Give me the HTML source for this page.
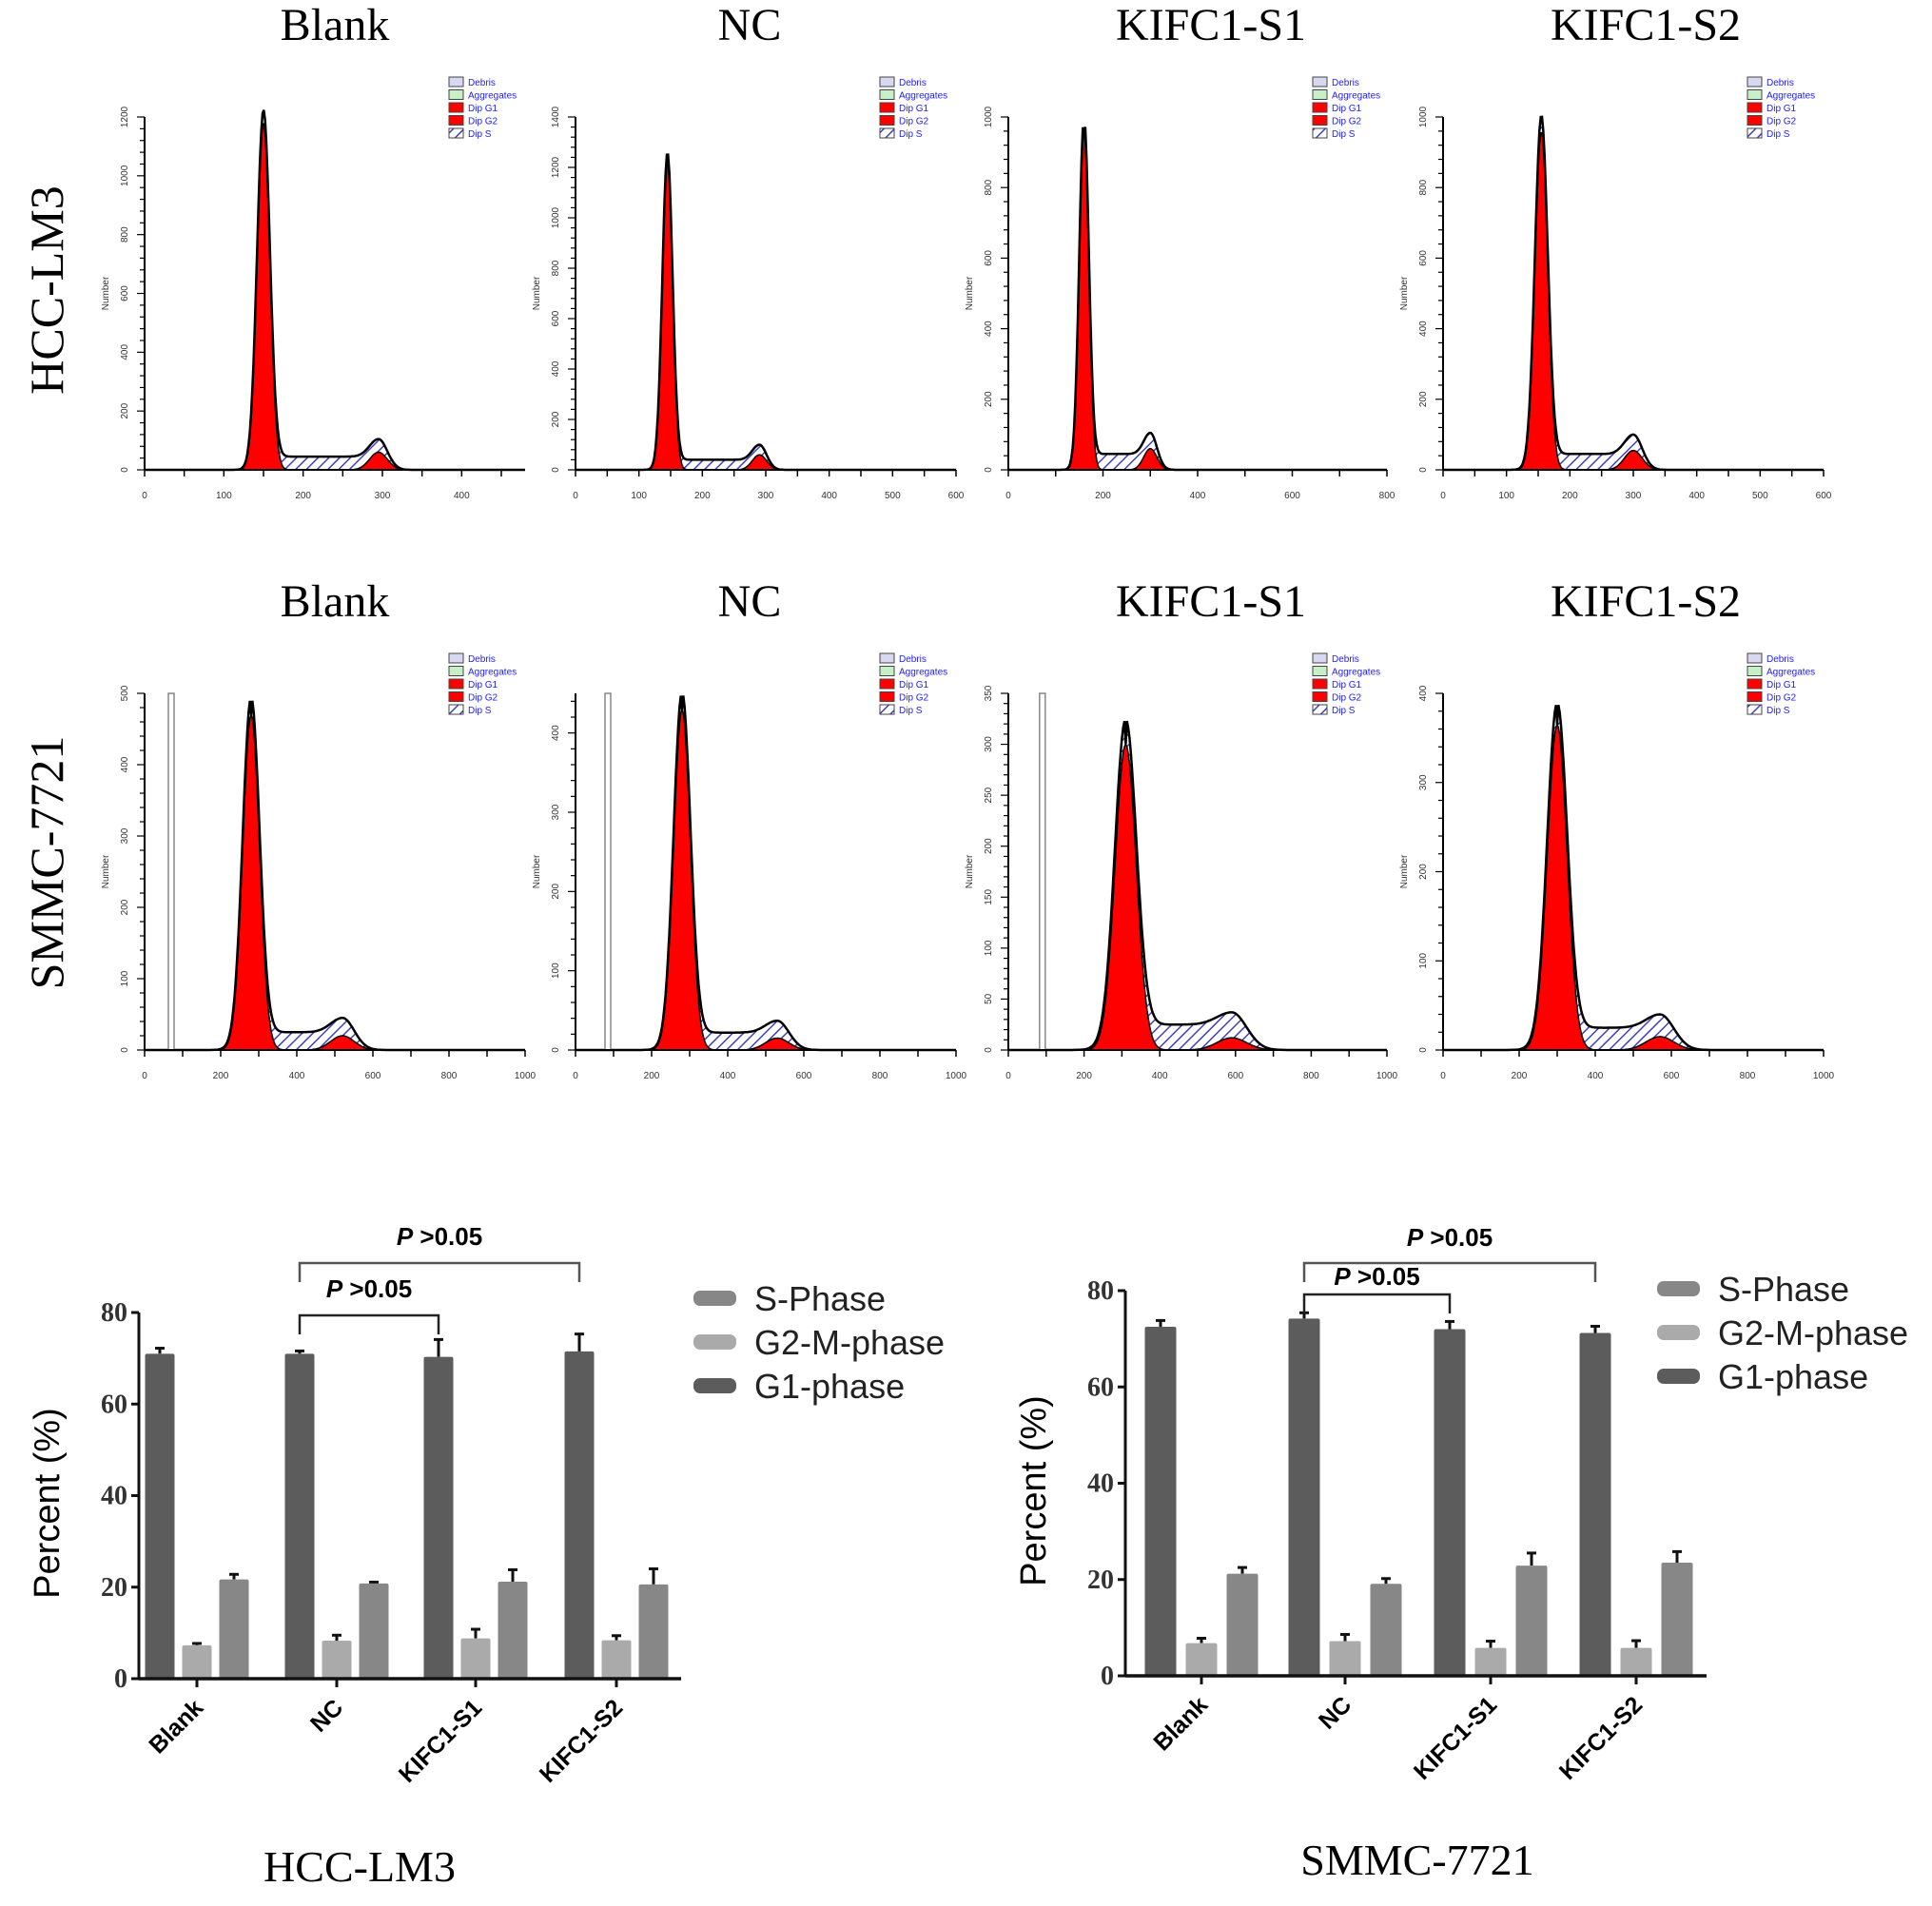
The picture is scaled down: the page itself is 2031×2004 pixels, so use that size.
<!DOCTYPE html>
<html><head><meta charset="utf-8"><style>
html,body{margin:0;padding:0;background:#fff;}
svg{display:block;}
.serif{font-family:"Liberation Serif",serif;}
.sans{font-family:"Liberation Sans",sans-serif;}
</style></head><body>
<svg id="fig" width="2031" height="2004" viewBox="0 0 2031 2004" xmlns="http://www.w3.org/2000/svg">
<defs>
<pattern id="hatch" patternUnits="userSpaceOnUse" width="8" height="8" patternTransform="rotate(45)">
<rect width="8" height="8" fill="#fff"/><line x1="0" y1="0" x2="0" y2="8" stroke="#4040c0" stroke-width="3"/>
</pattern>
</defs>
<g id="hists"></g>
<g id="bars"></g>
</svg>
<script>
// ===== Histogram data =====
const histTitles = ["Blank","NC","KIFC1-S1","KIFC1-S2"];
const rowLabels = ["HCC-LM3","SMMC-7721"];
const row1XMax = [480,600,800,600];
const row1XTickStep = [100,100,200,100];
const row1YMax = [1200,1400,1000,1000];
const row1YTickStep = [200,200,200,200];
const row1G1Pos = [150,145,160,155];
const row1G1Height = [1180,1220,960,960];
const row1G1Sigma = [8,8,10,10];
const row1G2Pos = [295,290,300,300];
const row1G2Height = [60,60,60,55];
const row1SLevel = [45,40,45,45];
const row2XMax = [1000,1000,1000,1000];
const row2XTickStep = [200,200,200,200];
const row2YMax = [500,450,350,400];
const row2YTickStep = [100,100,50,100];
const row2G1Pos = [280,280,310,300];
const row2G1Height = [470,430,300,365];
const row2G1Sigma = [22,22,28,26];
const row2G2Pos = [520,530,590,570];
const row2G2Height = [20,15,12,15];
const row2SLevel = [25,22,25,25];
const row2DebrisPos = [70,85,90,0];

// ===== Bar chart data =====
const barCategories = ["Blank","NC","KIFC1-S1","KIFC1-S2"];
const seriesNames = ["S-Phase","G2-M-phase","G1-phase"];
const yTicks = [0,20,40,60,80];
const hccG1 = [71,71,70.3,71.5];
const hccG1Err = [1.2,0.6,3.8,3.8];
const hccG2M = [7.3,8.3,8.8,8.4];
const hccG2MErr = [0.4,1.2,2.0,1.0];
const hccS = [21.7,20.8,21.2,20.6];
const hccSErr = [1.1,0.3,2.6,3.4];
const smG1 = [72.5,74.2,72,71.2];
const smG1Err = [1.3,1.2,1.6,1.4];
const smG2M = [6.8,7.2,5.8,5.8];
const smG2MErr = [1.0,1.4,1.4,1.5];
const smS = [21.2,19.1,22.9,23.5];
const smSErr = [1.3,1.1,2.6,2.3];

const NS="http://www.w3.org/2000/svg";
function mk(tag,attrs,parent,text){const e=document.createElementNS(NS,tag);for(const k in attrs)e.setAttribute(k,attrs[k]);if(text!==undefined)e.textContent=text;parent.appendChild(e);return e;}

const hists=document.getElementById('hists');
const panelX0=[152,605,1060,1517];
const panelW=[400,400,398,400];
const rowCfg=[
 {y0:494,yTop:123,titleY:42,xMax:row1XMax,xStep:row1XTickStep,yMax:row1YMax,yStep:row1YTickStep,g1p:row1G1Pos,g1h:row1G1Height,g1s:row1G1Sigma,g2p:row1G2Pos,g2h:row1G2Height,s:row1SLevel,deb:null,labY:305},
 {y0:1104,yTop:729,titleY:648,xMax:row2XMax,xStep:row2XTickStep,yMax:row2YMax,yStep:row2YTickStep,g1p:row2G1Pos,g1h:row2G1Height,g1s:row2G1Sigma,g2p:row2G2Pos,g2h:row2G2Height,s:row2SLevel,deb:row2DebrisPos,labY:907}
];
rowCfg.forEach((r,ri)=>{
  const lab=mk('text',{x:0,y:0,transform:`translate(66,${r.labY}) rotate(-90)`,'text-anchor':'middle','font-size':50,class:'serif'},hists,rowLabels[ri]);
  
  
  for(let p=0;p<4;p++){
    const g=mk('g',{},hists);
    
    
    const x0=panelX0[p],w=panelW[p],y0=r.y0,h=y0-r.yTop;
    const sx=v=>x0+v/r.xMax[p]*w, sy=v=>y0-v/r.yMax[p]*h;
    const t=mk('text',{x:[352,788,1273,1730][p],y:r.titleY,'text-anchor':'middle','font-size':48,class:'serif'},g,histTitles[p]);
    
    
    const G1=v=>r.g1h[p]*Math.exp(-0.5*Math.pow((v-r.g1p[p])/r.g1s[p],2));
    const sig2=r.g1s[p]*1.4;
    const G2=v=>r.g2h[p]*Math.exp(-0.5*Math.pow((v-r.g2p[p])/sig2,2));
    const S=v=>(v>r.g1p[p]&&v<r.g2p[p])?r.s[p]:r.s[p]*Math.exp(-0.5*Math.pow((v<r.g1p[p]?v-r.g1p[p]:v-r.g2p[p])/sig2,2));
    let dG1='',dG2='',dT='';
    const N=300;
    for(let i=0;i<=N;i++){const v=i/N*r.xMax[p];const x=sx(v).toFixed(1);
      dG1+=(i?'L':'M')+x+','+sy(G1(v)).toFixed(1);
      dG2+=(i?'L':'M')+x+','+sy(G2(v)).toFixed(1);
      dT+=(i?'L':'M')+x+','+sy(G1(v)+S(v)+G2(v)).toFixed(1);}
    const close=`L${sx(r.xMax[p])},${y0}L${x0},${y0}Z`;
    const sp=mk('path',{d:dT+close,fill:'url(#hatch)'},g);
    
    
    const g1=mk('path',{d:dG1+close,fill:'#ff0000',stroke:'#000','stroke-width':1.5},g);
    
    
    const g2=mk('path',{d:dG2+close,fill:'#ff0000',stroke:'#000','stroke-width':1.5},g);
    
    
    const tot=mk('path',{d:dT,fill:'none',stroke:'#000','stroke-width':2.5},g);
    
    
    if(r.deb&&r.deb[p]){
      const dx=sx(r.deb[p]);
      const d=mk('rect',{x:dx-3,y:r.yTop,width:6,height:h,fill:'#fff',stroke:'#888','stroke-width':1.5},g);
      
      
    }
    mk('line',{x1:x0,y1:y0,x2:x0+w,y2:y0,stroke:'#000','stroke-width':2},g);
    mk('line',{x1:x0,y1:y0,x2:x0,y2:r.yTop,stroke:'#000','stroke-width':2},g);
    for(let v=0;v<=r.xMax[p]+0.1;v+=r.xStep[p]/2){
      mk('line',{x1:sx(v),y1:y0,x2:sx(v),y2:y0+7,stroke:'#000','stroke-width':1.5},g);
      if(Math.abs(v/r.xStep[p]-Math.round(v/r.xStep[p]))<1e-6&&sx(v)<=x0+w+2)
        mk('text',{x:sx(v),y:y0+30,'text-anchor':'middle','font-size':10,fill:'#333',class:'sans'},g,String(v));
    }
    for(let v=0;v<=r.yMax[p]+0.1;v+=r.yStep[p]/5){
      const maj=Math.abs(v/r.yStep[p]-Math.round(v/r.yStep[p]))<1e-6;
      mk('line',{x1:x0-(maj?8:5),y1:sy(v),x2:x0,y2:sy(v),stroke:'#000','stroke-width':1.2},g);
      if(maj) mk('text',{x:0,y:0,transform:`translate(${x0-18},${sy(v)}) rotate(-90)`,'text-anchor':'middle','font-size':10,fill:'#333',class:'sans'},g,String(Math.round(v)));
    }
    mk('text',{x:0,y:0,transform:`translate(${x0-38},${y0-h/2}) rotate(-90)`,'text-anchor':'middle','font-size':10,fill:'#333',class:'sans'},g,'Number');
    const lx=x0+320, ly=r.yTop-42;
    const legNames=["Debris","Aggregates","Dip G1","Dip G2","Dip S"];
    const legFill=["#d8d8f0","#c8f0c8","#ff0000","#ff0000","url(#hatch)"];
    legNames.forEach((n,i)=>{
      const le=mk('g',{},g);
      
      
      mk('rect',{x:lx,y:ly+i*13.5,width:15,height:10,fill:legFill[i],stroke:'#444','stroke-width':1},le);
      mk('text',{x:lx+20,y:ly+i*13.5+9,'font-size':10,fill:'#2020ff',class:'sans'},le,n);
    });
  }
});

// ===== Bar charts =====
const bars=document.getElementById('bars');
const charts=[
 {ax:146,y0:1765,y80:1380,xEnd:716,centers:[207,354,500,648],off:39,bw:31,g1:hccG1,g1e:hccG1Err,g2:hccG2M,g2e:hccG2MErr,s:hccS,se:hccSErr,
  brOuter:{a:1,b:3,y:1328,ty:1315},brInner:{a:1,b:2,y:1383,ty:1370},legX:729,legY:1365,title:"HCC-LM3",titleX:378,titleY:1978},
 {ax:1183,y0:1762,y80:1357,xEnd:1794,centers:[1263,1414,1567,1720],off:43,bw:33,g1:smG1,g1e:smG1Err,g2:smG2M,g2e:smG2MErr,s:smS,se:smSErr,
  brOuter:{a:1,b:3,y:1328,ty:1316},brInner:{a:1,b:2,y:1361,ty:1357},legX:1742,legY:1355,title:"SMMC-7721",titleX:1490,titleY:1971}
];
const colG1='#5c5c5c',colG2='#aaaaaa',colS='#878787';
charts.forEach((c,ci)=>{
  const g=mk('g',{},bars);
  
  
  const sy=v=>c.y0-v/80*(c.y0-c.y80);
  c.centers.forEach((cx,i)=>{
    [[c.g1,c.g1e,colG1,-1,'g1'],[c.g2,c.g2e,colG2,0,'g2m'],[c.s,c.se,colS,1,'s']].forEach(([vals,errs,col,k,nm])=>{
      const x=cx+k*c.off;
      const eb=mk('line',{x1:x,y1:sy(vals[i]),x2:x,y2:sy(vals[i]+errs[i]),stroke:'#111','stroke-width':3},g);
      
      
      mk('line',{x1:x-5,y1:sy(vals[i]+errs[i]),x2:x+5,y2:sy(vals[i]+errs[i]),stroke:'#111','stroke-width':3},g);
      const b=mk('rect',{x:x-c.bw/2,y:sy(vals[i]),width:c.bw,height:c.y0-sy(vals[i]),fill:col,rx:2},g);
      
      
    });
    mk('line',{x1:cx,y1:c.y0,x2:cx,y2:c.y0+9,stroke:'#111','stroke-width':3},g);
    const xl=mk('text',{x:0,y:0,transform:`translate(${cx+8},${c.y0+32}) rotate(-45)`,'text-anchor':'end','font-size':25,'font-weight':'bold',class:'sans'},g,barCategories[i]);
    
    
  });
  mk('line',{x1:c.ax,y1:c.y0,x2:c.xEnd,y2:c.y0,stroke:'#111','stroke-width':3.5},g);
  mk('line',{x1:c.ax,y1:c.y0,x2:c.ax,y2:c.y80,stroke:'#111','stroke-width':3},g);
  yTicks.forEach(v=>{
    mk('line',{x1:c.ax-8,y1:sy(v),x2:c.ax,y2:sy(v),stroke:'#111','stroke-width':3},g);
    const t=mk('text',{x:c.ax-12,y:sy(v)+9,'text-anchor':'end','font-size':28,'font-weight':'bold',fill:'#333',class:'serif'},g,String(v));
    
    
  });
  const yt=mk('text',{x:0,y:0,transform:`translate(${c.ax-84},${(c.y0+c.y80)/2+8}) rotate(-90)`,'text-anchor':'middle','font-size':38,class:'sans'},g,'Percent (%)');
  
  
  [c.brOuter,c.brInner].forEach((br,bi)=>{
    const xa=c.centers[br.a]-c.off, xb=c.centers[br.b]-c.off;
    const p=mk('path',{d:`M${xa},${br.y+20}L${xa},${br.y}L${xb},${br.y}L${xb},${br.y+20}`,fill:'none',stroke:bi?'#222':'#555','stroke-width':2.5},g);
    
    
    const t=mk('text',{x:(xa+xb)/2,y:br.ty-6,'text-anchor':'middle','font-size':26,'font-weight':'bold',class:'sans'},g);
    
    
    mk('tspan',{'font-style':'italic'},t,'P');
    mk('tspan',{},t,' >0.05');
  });
  [colS,colG2,colG1].forEach((col,i)=>{
    const le=mk('g',{},g);
    
    
    mk('rect',{x:c.legX,y:c.legY+i*46-8,width:45,height:16,rx:7,fill:col},le);
    mk('text',{x:c.legX+64,y:c.legY+i*46+13,'font-size':36,fill:'#222',class:'sans'},le,seriesNames[i]);
  });
  const tt=mk('text',{x:c.titleX,y:c.titleY,'text-anchor':'middle','font-size':46,class:'serif'},g,c.title);
  
  
});
</script>
</body></html>
